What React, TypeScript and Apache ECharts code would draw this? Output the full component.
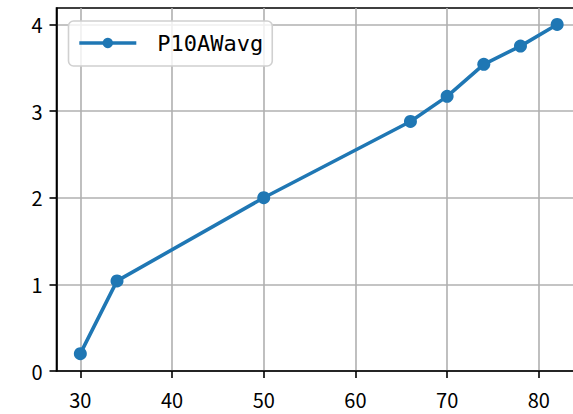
import React, { useEffect, useRef } from "react";
import * as echarts from "echarts";

const xValues = [30, 34, 50, 66, 70, 74, 78, 82];
const yValues = [0.2, 1.04, 2.0, 2.88, 3.17, 3.54, 3.75, 4.0];
const xTicks = [30, 40, 50, 60, 70, 80];
const yTicks = [0, 1, 2, 3, 4];
const seriesName = "P10AWavg";

export default function App() {
  const ref = useRef<HTMLDivElement>(null);
  useEffect(() => {
    if (!ref.current) return;
    const chart = echarts.init(ref.current, undefined, { renderer: "svg" });
    const font = "'Noto Sans CJK JP', 'Noto Sans', sans-serif";
    chart.setOption({
      animation: false,
      backgroundColor: "#ffffff",
      grid: {
        left: 56.5,
        right: 11,
        top: 8,
        bottom: 43,
        show: true,
        borderColor: "#000000",
        borderWidth: 1.6,
        backgroundColor: "transparent",
      },
      legend: {
        show: true,
        left: 68.5,
        top: 21,
        orient: "vertical",
        data: [{ name: seriesName }],
        itemWidth: 57,
        itemHeight: 13,
        itemGap: 10,
        padding: [11, 9, 12, 9],
        backgroundColor: "rgba(255,255,255,0.8)",
        borderColor: "#d0d0d0",
        borderWidth: 1.6,
        borderRadius: 5,
        lineStyle: { width: 3.6, color: "#1f77b4" },
        itemStyle: { color: "#1f77b4" },
        textStyle: {
          fontFamily: "'DejaVu Sans Mono', monospace",
          fontSize: 22,
          color: "#000000",
          padding: [0, 0, 0, 16],
        },
      },
      xAxis: {
        type: "value",
        min: 27.4,
        max: 84.6,
        axisLine: { show: true, lineStyle: { color: "#000", width: 1.6 } },
        axisTick: {
          show: true,
          length: 7,
          inside: false,
          customValues: xTicks,
          lineStyle: { color: "#000", width: 1.6 },
        },
        axisLabel: {
          customValues: xTicks,
          color: "#000",
          fontSize: 20,
          fontFamily: font,
          margin: 18,
        },
        splitLine: { show: true, lineStyle: { color: "#b0b0b0", width: 1.6 } },
      },
      yAxis: {
        type: "value",
        min: 0,
        max: 4.19,
        axisLine: { show: true, lineStyle: { color: "#000", width: 1.6 } },
        axisTick: {
          show: true,
          length: 7,
          inside: false,
          customValues: yTicks,
          lineStyle: { color: "#000", width: 1.6 },
        },
        axisLabel: {
          customValues: yTicks,
          color: "#000",
          fontSize: 20,
          fontFamily: font,
          margin: 14,
        },
        splitLine: { show: true, lineStyle: { color: "#b0b0b0", width: 1.6 } },
      },
      series: [
        {
          name: seriesName,
          type: "line",
          data: xValues.map((x, i) => [x, yValues[i]]),
          symbol: "circle",
          symbolSize: 13,
          showSymbol: true,
          lineStyle: { color: "#1f77b4", width: 3.6 },
          itemStyle: { color: "#1f77b4" },
          clip: false,
        },
      ],
    });
    return () => chart.dispose();
  }, []);
  return (
    <div
      style={{
        position: "fixed",
        left: 0,
        top: 0,
        width: 573,
        height: 414,
        overflow: "hidden",
      }}
    >
      <div ref={ref} style={{ width: 592, height: 414 }} />
    </div>
  );
}
